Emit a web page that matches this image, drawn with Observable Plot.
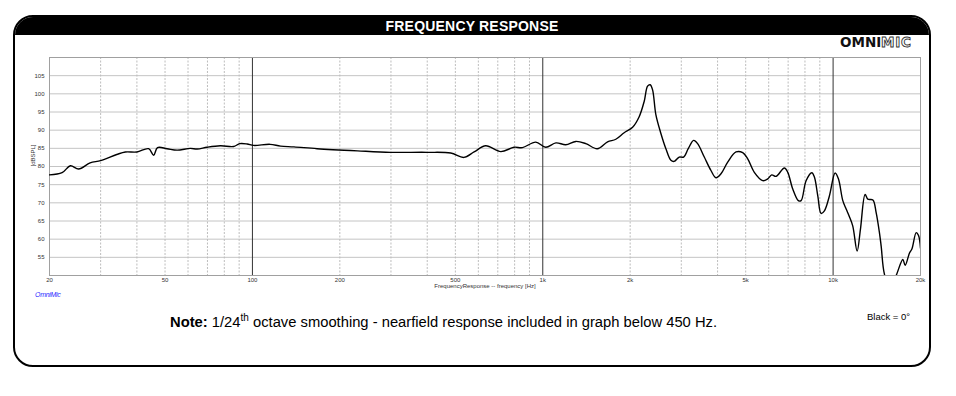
<!DOCTYPE html>
<html>
<head>
<meta charset="utf-8">
<script src="https://cdn.jsdelivr.net/npm/d3@7"></script>
<script src="https://cdn.jsdelivr.net/npm/@observablehq/plot@0.6"></script>
<style>
  html, body { margin: 0; padding: 0; background: #fff; width: 956px; height: 396px; overflow: hidden; }
  #wrap { position: relative; width: 956px; height: 396px; font-family: "Liberation Sans", Arial, sans-serif; }
  #frame { position: absolute; left: 13px; top: 15px; width: 918px; height: 352px; box-sizing: border-box;
           border: 2px solid #000; border-radius: 20px; overflow: hidden; background: #fff; }
  #header { position: absolute; left: 0; top: 0; right: 0; height: 18px; background: #000; color: #fff;
            font-weight: bold; font-size: 14px; line-height: 19px; text-align: center; letter-spacing: 0.2px; }
  #logo { position: absolute; left: 838px; top: 34px; }
  #chart { position: absolute; left: 0; top: 0; }
  #note { position: absolute; left: 170px; top: 314px; font-size: 14.75px; color: #000; white-space: nowrap; }
  #note sup { font-size: 10px; vertical-align: 0; position: relative; top: -6px; }
  #black { position: absolute; left: 867px; top: 311px; font-size: 9.5px; color: #000; }
  #omni { position: absolute; left: 35px; top: 291px; font-size: 7px; font-style: italic; color: #2a2aff; letter-spacing: -0.3px; }
</style>
</head>
<body>
<div id="wrap">
  <div id="frame"><div id="header">FREQUENCY RESPONSE</div></div>
  <svg id="logo" width="84" height="16" xmlns="http://www.w3.org/2000/svg">
    <text x="2" y="12.5" font-family="DejaVu Sans, sans-serif" font-weight="bold" font-size="13.5" fill="#111">OMNI</text>
    <text x="43" y="12.5" font-family="DejaVu Sans, sans-serif" font-weight="bold" font-size="13.5" fill="#fff" stroke="#333" stroke-width="0.9" letter-spacing="0.8">MIC</text>
  </svg>
  <div id="chart"></div>
  <div id="omni">OmniMic</div>
  <div id="note"><b>Note:</b> 1/24<sup>th</sup> octave smoothing - nearfield response included in graph below 450 Hz.</div>
  <div id="black">Black = 0°</div>
</div>
<script>
// Frequency response (Hz, dB SPL)
const freq = [20, 22.1, 23.6, 25.2, 27.6, 30, 34.1, 36.5, 40, 43.9, 45.7, 47.1, 50.8, 55, 61.1, 64.5, 69.8, 77.6, 86.2, 90.4, 95.9,
  101, 115, 125, 139, 167, 230, 299, 400, 482, 535, 580, 636, 717, 796, 851, 946,
  1024, 1110, 1200, 1300, 1407, 1541, 1672, 1785, 1907, 2039, 2148, 2235, 2296, 2344, 2389, 2453, 2552, 2655, 2763, 2836, 2951,
  3056, 3170, 3309, 3415, 3600, 3796, 3950, 4110, 4335, 4630, 4883, 5081, 5354, 5723, 5955, 6147, 6360, 6794, 6980, 7262, 7592, 7758,
  8072, 8446, 8621, 8857, 9090, 9333, 9710, 10160, 10430, 10800, 11090, 11380, 11690, 12100, 12420, 12890, 13170, 13710, 14070,
  14440, 14640, 15030, 15730, 16490, 17390, 17710, 18330, 18680, 19330, 19690, 20000];
const spl = [77.7, 78.3, 80.2, 79.3, 81.0, 81.6, 83.3, 84.0, 84.0, 84.9, 83.1, 85.2, 84.9, 84.5, 85.0, 84.8, 85.3, 85.7, 85.5, 86.3, 86.2,
  85.8, 86.1, 85.6, 85.4, 84.9, 84.3, 83.9, 83.9, 83.7, 82.5, 84.0, 85.7, 84.1, 85.3, 85.2, 86.7,
  85.3, 86.5, 86.0, 86.9, 86.3, 84.9, 86.8, 87.5, 89.3, 90.8, 93.7, 97.9, 102.1, 102.5, 101.1, 94.2, 89.1, 84.9, 81.7, 81.4, 82.6,
  82.6, 84.9, 87.2, 86.3, 82.6, 78.9, 76.9, 78.0, 81.2, 84.0, 83.8, 82.1, 78.4, 76.1, 76.6, 77.7, 77.3, 79.6, 78.4, 73.8, 70.6, 70.6,
  76.1, 78.3, 77.1, 71.9, 67.1, 67.8, 71.9, 78.2, 76.6, 70.6, 68.3, 66.2, 63.6, 56.7, 62.7, 72.3, 71.0, 70.8, 67.3,
  61.8, 58.1, 50.3, 46.5, 50.0, 54.4, 52.8, 56.2, 57.3, 61.8, 61.0, 57.5];

const xTicks = [20, 50, 100, 200, 500, 1000, 2000, 5000, 10000, 20000];
const xTickLabels = ["20", "50", "100", "200", "500", "1k", "2k", "5k", "10k", "20k"];
const yTicks = [55, 60, 65, 70, 75, 80, 85, 90, 95, 100, 105];
const majorLines = [100, 1000, 10000];
const minorLines = [30, 40, 50, 60, 70, 80, 90, 200, 300, 400, 500, 600, 700, 800, 900,
  2000, 3000, 4000, 5000, 6000, 7000, 8000, 9000];

const data = freq.map((f, i) => ({f, db: spl[i]}));
const xTickData = xTicks.map((t, i) => ({t, label: xTickLabels[i]}));

const chart = Plot.plot({
  width: 956,
  height: 396,
  marginLeft: 49,
  marginRight: 36,
  marginTop: 57,
  marginBottom: 121,
  style: {background: "transparent", fontFamily: "'Liberation Sans', Arial, sans-serif", fontSize: "6px", color: "#333", overflow: "visible"},
  x: {type: "log", domain: [20, 20000], axis: null},
  y: {domain: [50, 110], axis: null},
  marks: [
    Plot.ruleY(yTicks, {y: d => d, stroke: "#c4c4c4", strokeWidth: 1, strokeOpacity: 1}),
    Plot.ruleX(minorLines, {x: d => d, stroke: "#bdbdbd", strokeWidth: 1, strokeDasharray: "2,1.5", strokeOpacity: 1}),
    Plot.ruleX(majorLines, {x: d => d, stroke: "#333", strokeWidth: 1, strokeOpacity: 1}),
    Plot.frame({stroke: "#a0a0a0", strokeWidth: 1}),
    Plot.text(xTickData, {x: "t", text: "label", frameAnchor: "bottom", lineAnchor: "top", dy: 2, fill: "#333", fontSize: 6}),
    Plot.text(yTicks, {y: d => d, text: d => String(d), frameAnchor: "left", textAnchor: "end", dx: -5, fill: "#333", fontSize: 6}),
    Plot.text(["FrequencyResponse -- frequency [Hz]"], {frameAnchor: "bottom", dy: 12, fill: "#333", fontSize: 6}),
    Plot.text(["[dBSPL]"], {frameAnchor: "left", dx: -16, rotate: -90, fill: "#333", fontSize: 6}),
    Plot.line(data, {x: "f", y: "db", stroke: "#000", strokeWidth: 1.4, curve: "catmull-rom", clip: true})
  ]
});
document.getElementById("chart").appendChild(chart);
</script>
</body>
</html>
